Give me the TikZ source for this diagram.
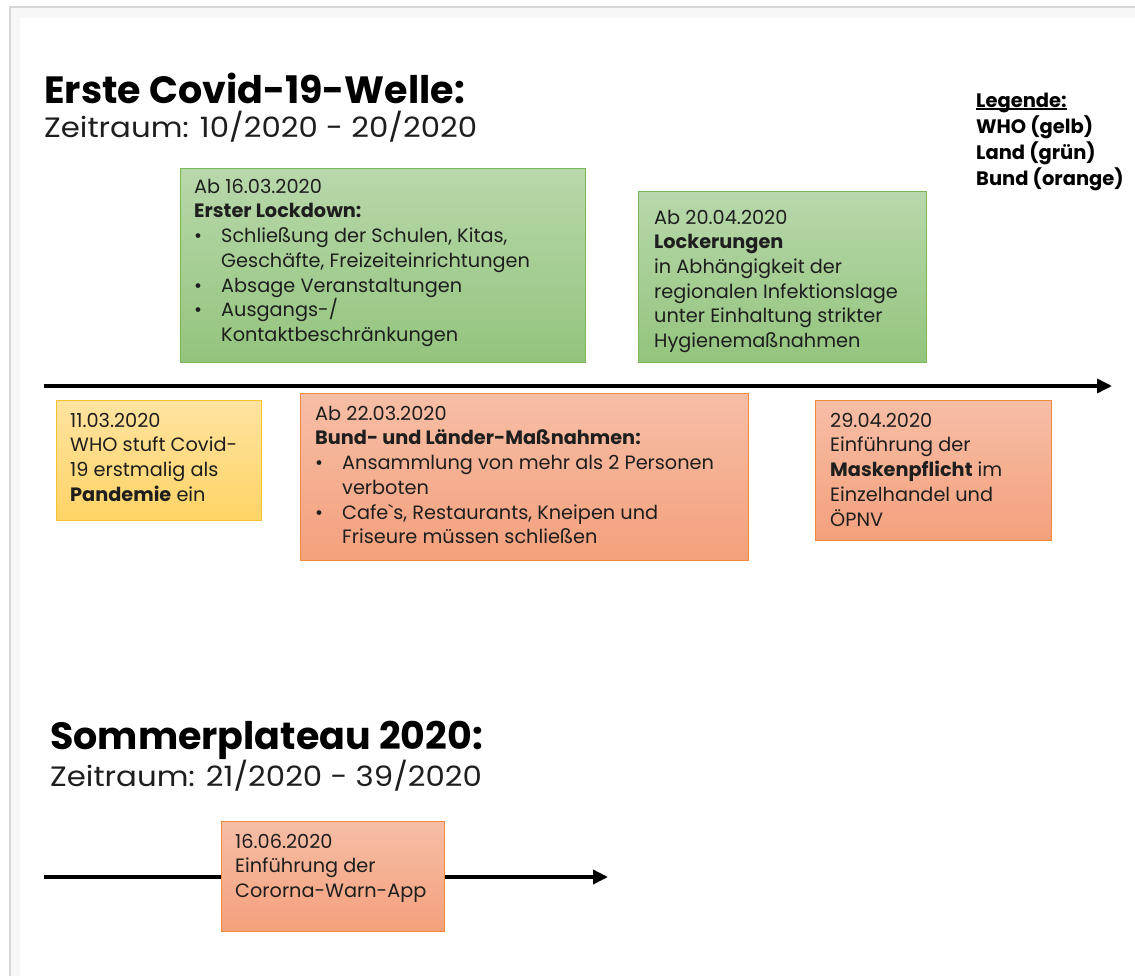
\documentclass[tikz,border=0pt]{standalone}
\usepackage{fontspec}
\setmainfont{Poppins}[Ligatures=TeXOff]
\usetikzlibrary{arrows.meta}

\definecolor{txt}{HTML}{1E1E1E}
\definecolor{frame}{HTML}{D6D6D6}
\definecolor{grntop}{HTML}{B8D8AB}
\definecolor{grnbot}{HTML}{93C47D}
\definecolor{grnline}{HTML}{7AB65A}
\definecolor{yeltop}{HTML}{FFE3A0}
\definecolor{yelbot}{HTML}{FFD466}
\definecolor{yelline}{HTML}{F6C22E}
\definecolor{orgtop}{HTML}{F6BEA6}
\definecolor{orgbot}{HTML}{F4A07C}
\definecolor{orgline}{HTML}{F08A3A}

% bullet with hanging indent for list lines
\newcommand\tlbul{\makebox[27pt][l]{\textbullet}}
\newcommand\tlind{\hspace*{27pt}}
% fixed first-line height so the text block starts at a known place
\newcommand\tlfirst{\rule{0pt}{16pt}}
% underline placed just below the baseline
\newcommand\tlul[1]{\setbox0\hbox{#1}\rlap{\rule[-2.6pt]{\wd0}{1.3pt}}\box0}

\begin{document}
\begin{tikzpicture}[x=1pt,y=-1pt,
  greenbox/.style={draw=grnline, line width=1pt, top color=grntop, bottom color=grnbot, anchor=north west, inner sep=0pt},
  yellowbox/.style={draw=yelline, line width=1pt, top color=yeltop, bottom color=yelbot, anchor=north west, inner sep=0pt},
  orangebox/.style={draw=orgline, line width=1pt, top color=orgtop, bottom color=orgbot, anchor=north west, inner sep=0pt},
  body/.style={anchor=north west, inner sep=0pt, align=left, text=txt, font=\fontsize{19.3}{24.7}\selectfont},
  headline/.style={anchor=base west, inner sep=0pt, text=black, font=\fontsize{38}{44}\selectfont\bfseries},
  period/.style={anchor=base west, inner sep=0pt, text=txt, font=\fontsize{28}{32}\selectfont\addfontfeature{FakeStretch=1.1}},
  legend/.style={anchor=north west, inner sep=0pt, align=left, text=black, font=\fontsize{19.5}{26}\selectfont\bfseries},
  timeline/.style={line width=3.5pt, -{Triangle[length=15pt,width=14pt]}},
]
\useasboundingbox (0,0) rectangle (1135,976);
\fill[white] (0,0) rectangle (1135,976);

% page frame
\fill[black!3] (10,7) rectangle (1135,18);
\fill[black!3] (10,7) rectangle (20,976);
\fill[white] (20,18) rectangle (1135,976);
\draw[frame, line width=2pt] (10,976) -- (10,7) -- (1135,7);

% ---- first wave ----
\node[headline] (t1) at (44,104) {Erste Covid-19-Welle:};
\node[period] (p1) at (44,138) {Zeitraum: 10/2020 - 20/2020};

\node[legend] (leg) at (976,91) {\tlfirst\tlul{Legende:}\\WHO (gelb)\\Land (grün)\\Bund (orange)};

\coordinate (a1s) at (44,386);
\coordinate (a1e) at (1112,386);
\draw[timeline] (a1s) -- (a1e);

\node[greenbox, minimum width=405pt, minimum height=194pt] (g1) at (180,168) {};
\node[body] (g1t) at (194,177) {\tlfirst Ab 16.03.2020\\
  \textbf{Erster Lockdown:}\\
  \tlbul Schließung der Schulen, Kitas,\\
  \tlind Geschäfte, Freizeiteinrichtungen\\
  \tlbul Absage Veranstaltungen\\
  \tlbul Ausgangs-/\\
  \tlind Kontaktbeschränkungen};

\node[greenbox, minimum width=288pt, minimum height=171pt] (g2) at (638,191) {};
\node[body] (g2t) at (654,208) {\tlfirst Ab 20.04.2020\\
  \textbf{Lockerungen}\\
  in Abhängigkeit der\\
  regionalen Infektionslage\\
  unter Einhaltung strikter\\
  Hygienemaßnahmen};

\node[yellowbox, minimum width=205pt, minimum height=120pt] (y1) at (56,400) {};
\node[body] (y1t) at (70,411) {\tlfirst 11.03.2020\\
  WHO stuft Covid-\\
  19 erstmalig als\\
  \textbf{Pandemie} ein};

\node[orangebox, minimum width=448pt, minimum height=167pt] (o1) at (300,393) {};
\node[body] (o1t) at (315,404) {\tlfirst Ab 22.03.2020\\
  \textbf{Bund- und Länder-Maßnahmen:}\\
  \tlbul Ansammlung von mehr als 2 Personen\\
  \tlind verboten\\
  \tlbul Cafe`s, Restaurants, Kneipen und\\
  \tlind Friseure müssen schließen};

\node[orangebox, minimum width=236pt, minimum height=140pt] (o2) at (815,400) {};
\node[body] (o2t) at (830,411) {\tlfirst 29.04.2020\\
  Einführung der\\
  \textbf{Maskenpflicht} im\\
  Einzelhandel und\\
  ÖPNV};

% ---- summer plateau ----
\node[headline] (t2) at (50,749) {Sommerplateau 2020:};
\node[period] (p2) at (50,786) {Zeitraum: 21/2020 - 39/2020};

\coordinate (a2s) at (44,877);
\coordinate (a2e) at (608,877);
\draw[timeline] (a2s) -- (a2e);

\node[orangebox, minimum width=223pt, minimum height=110pt] (o3) at (221,821) {};
\node[body] (o3t) at (235,832) {\tlfirst 16.06.2020\\
  Einführung der\\
  Cororna-Warn-App};

\end{tikzpicture}
\end{document}
